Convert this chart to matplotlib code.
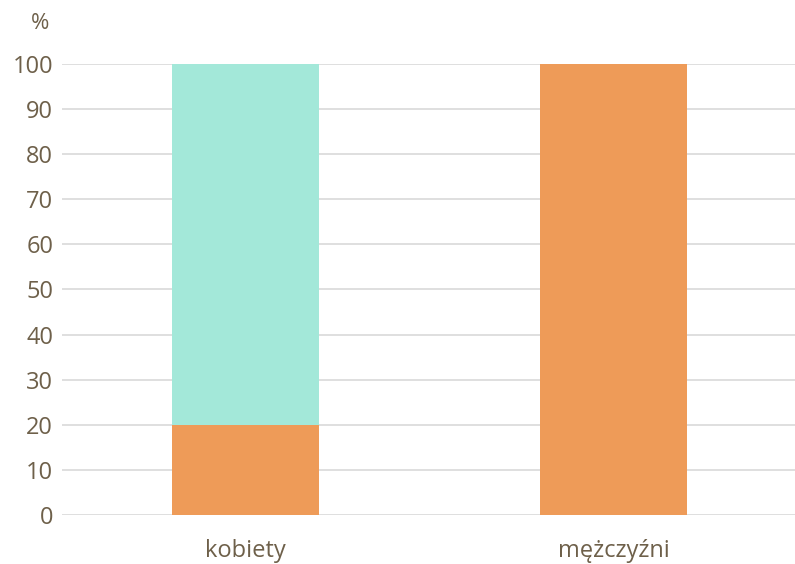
import numpy as np
import matplotlib.pyplot as plt

plt.rcParams['font.family'] = ['Open Sans', 'DejaVu Sans']

categories = ["kobiety", "mężczyźni"]
orange_vals = [20, 100]
teal_vals = [80, 0]
y_ticks = [0, 10, 20, 30, 40, 50, 60, 70, 80, 90, 100]

text_color = "#6e604a"
orange = "#ee9b58"
teal = "#a3e8d9"

fig = plt.figure(figsize=(7.95, 5.64), dpi=100)
ax = fig.add_axes([0.0774, 0.087, 0.9258, 0.7995])

x = np.arange(len(categories))
ax.bar(x, orange_vals, width=0.4, color=orange, zorder=3)
ax.bar(x, teal_vals, width=0.4, bottom=orange_vals, color=teal, zorder=3)

ax.set_xlim(-0.5, 1.5)
ax.set_ylim(0, 100)
ax.set_yticks(y_ticks)
ax.set_xticks(x)
ax.set_xticklabels(categories)
ax.yaxis.grid(True, color="#d9d9d9", linewidth=1.2, zorder=0)
ax.tick_params(axis="both", length=0, labelsize=17, labelcolor=text_color)
ax.tick_params(axis="y", pad=6)
ax.tick_params(axis="x", pad=17)
for s in ax.spines.values():
    s.set_visible(False)
ax.set_axisbelow(True)

fig.text(0.051, 0.958, "%", fontsize=16, color=text_color, ha="center", va="center")

fig.savefig("out.png", dpi=100)
